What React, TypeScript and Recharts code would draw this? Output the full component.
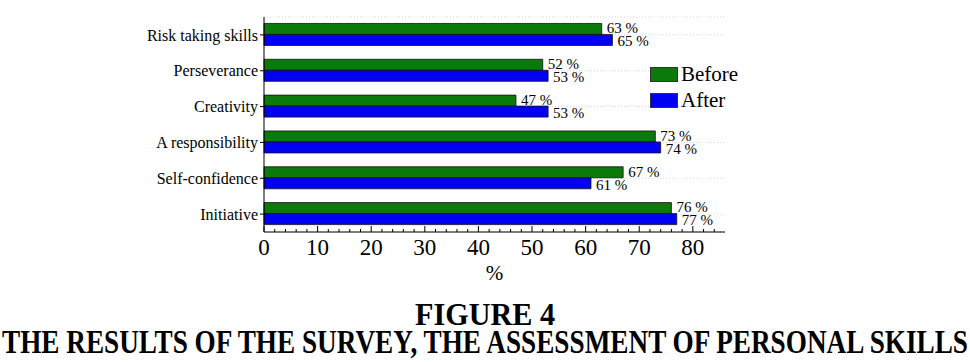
import { BarChart, Bar, XAxis, YAxis, CartesianGrid, LabelList } from 'recharts'

const skills = ['Risk taking skills', 'Perseverance', 'Creativity', 'A responsibility', 'Self-confidence', 'Initiative']
const before = [63, 52, 47, 73, 67, 76]
const after = [65, 53, 53, 74, 61, 77]
const xTicks = [0, 2, 4, 6, 8, 10, 12, 14, 16, 18, 20, 22, 24, 26, 28, 30, 32, 34, 36, 38, 40, 42, 44, 46, 48, 50, 52, 54, 56, 58, 60, 62, 64, 66, 68, 70, 72, 74, 76, 78, 80, 82, 84]

const data = skills.map((name, i) => ({ name, before: before[i], after: after[i] }))

const GREEN = '#0b7a0b'
const BLUE = '#0000f2'
const FONT = '"Liberation Serif", "Times New Roman", serif'

function XTick(props: any) {
  const { x, y, payload } = props
  const major = payload.value % 10 === 0
  return (
    <g>
      <line x1={x} x2={x} y1={y} y2={y - (major ? 6 : 3)} stroke="#000" strokeWidth={1} />
      {major && (
        <text x={x} y={y + 23} textAnchor="middle" fontSize={23} fontFamily={FONT} fill="#000">
          {payload.value}
        </text>
      )}
    </g>
  )
}

function LegendBox() {
  const row = (color: string, label: string) => (
    <div style={{ display: 'flex', alignItems: 'center', height: 26 }}>
      <span style={{ width: 26, height: 13, background: color, border: '1px solid #333', marginRight: 3 }} />
      <span style={{ fontFamily: FONT, fontSize: 21, color: '#000', lineHeight: '26px' }}>{label}</span>
    </div>
  )
  return (
    <div style={{ position: 'absolute', left: 650, top: 61, width: 110 }}>
      {row(GREEN, 'Before')}
      {row(BLUE, 'After')}
    </div>
  )
}

export default function App() {
  return (
    <div style={{ position: 'absolute', left: 0, top: 0, width: 970, height: 362, background: '#fff' }}>
      <BarChart
        width={970}
        height={290}
        data={data}
        layout="vertical"
        margin={{ top: 17, right: 245, left: 0, bottom: 10 }}
        barCategoryGap="18%"
        barGap={0}
      >
        <CartesianGrid horizontal vertical={false} stroke="#d8d8d8" strokeDasharray="1 2" />
        <XAxis
          type="number"
          domain={[0, 86]}
          ticks={xTicks}
          interval={0}
          tickSize={0}
          tickMargin={0}
          tick={<XTick />}
          axisLine={{ stroke: '#000' }}
          height={48}
          label={{ value: '%', position: 'insideBottom', offset: 0, fontSize: 21, fontFamily: FONT, fill: '#000' }}
        />
        <YAxis
          type="category"
          dataKey="name"
          width={264}
          tickSize={4}
          tickMargin={2}
          tick={{ fontSize: 16, fontFamily: FONT, fill: '#000' }}
          axisLine={{ stroke: '#000' }}
          tickLine={{ stroke: '#000' }}
        />
        <Bar dataKey="before" fill={GREEN} stroke="#111" strokeWidth={0.8} isAnimationActive={false}>
          <LabelList
            dataKey="before"
            position="right"
            offset={5}
            dy={-1}
            formatter={(v: any) => `${v} %`}
            style={{ fontSize: 15, fontFamily: FONT, fill: '#000' }}
          />
        </Bar>
        <Bar dataKey="after" fill={BLUE} stroke="#111" strokeWidth={0.8} isAnimationActive={false}>
          <LabelList
            dataKey="after"
            position="right"
            offset={5}
            dy={1}
            formatter={(v: any) => `${v} %`}
            style={{ fontSize: 15, fontFamily: FONT, fill: '#000' }}
          />
        </Bar>
      </BarChart>
      <LegendBox />
      <svg width={970} height={72} style={{ position: 'absolute', left: 0, top: 290 }}>
        <text x={485} y={35} textAnchor="middle" fontFamily={FONT} fontWeight="bold" fontSize={31} textLength={140} lengthAdjust="spacingAndGlyphs" fill="#000">
          FIGURE 4
        </text>
        <text x={485} y={63} textAnchor="middle" fontFamily={FONT} fontWeight="bold" fontSize={33} textLength={966} lengthAdjust="spacingAndGlyphs" fill="#000">
          THE RESULTS OF THE SURVEY, THE ASSESSMENT OF PERSONAL SKILLS
        </text>
      </svg>
    </div>
  )
}
